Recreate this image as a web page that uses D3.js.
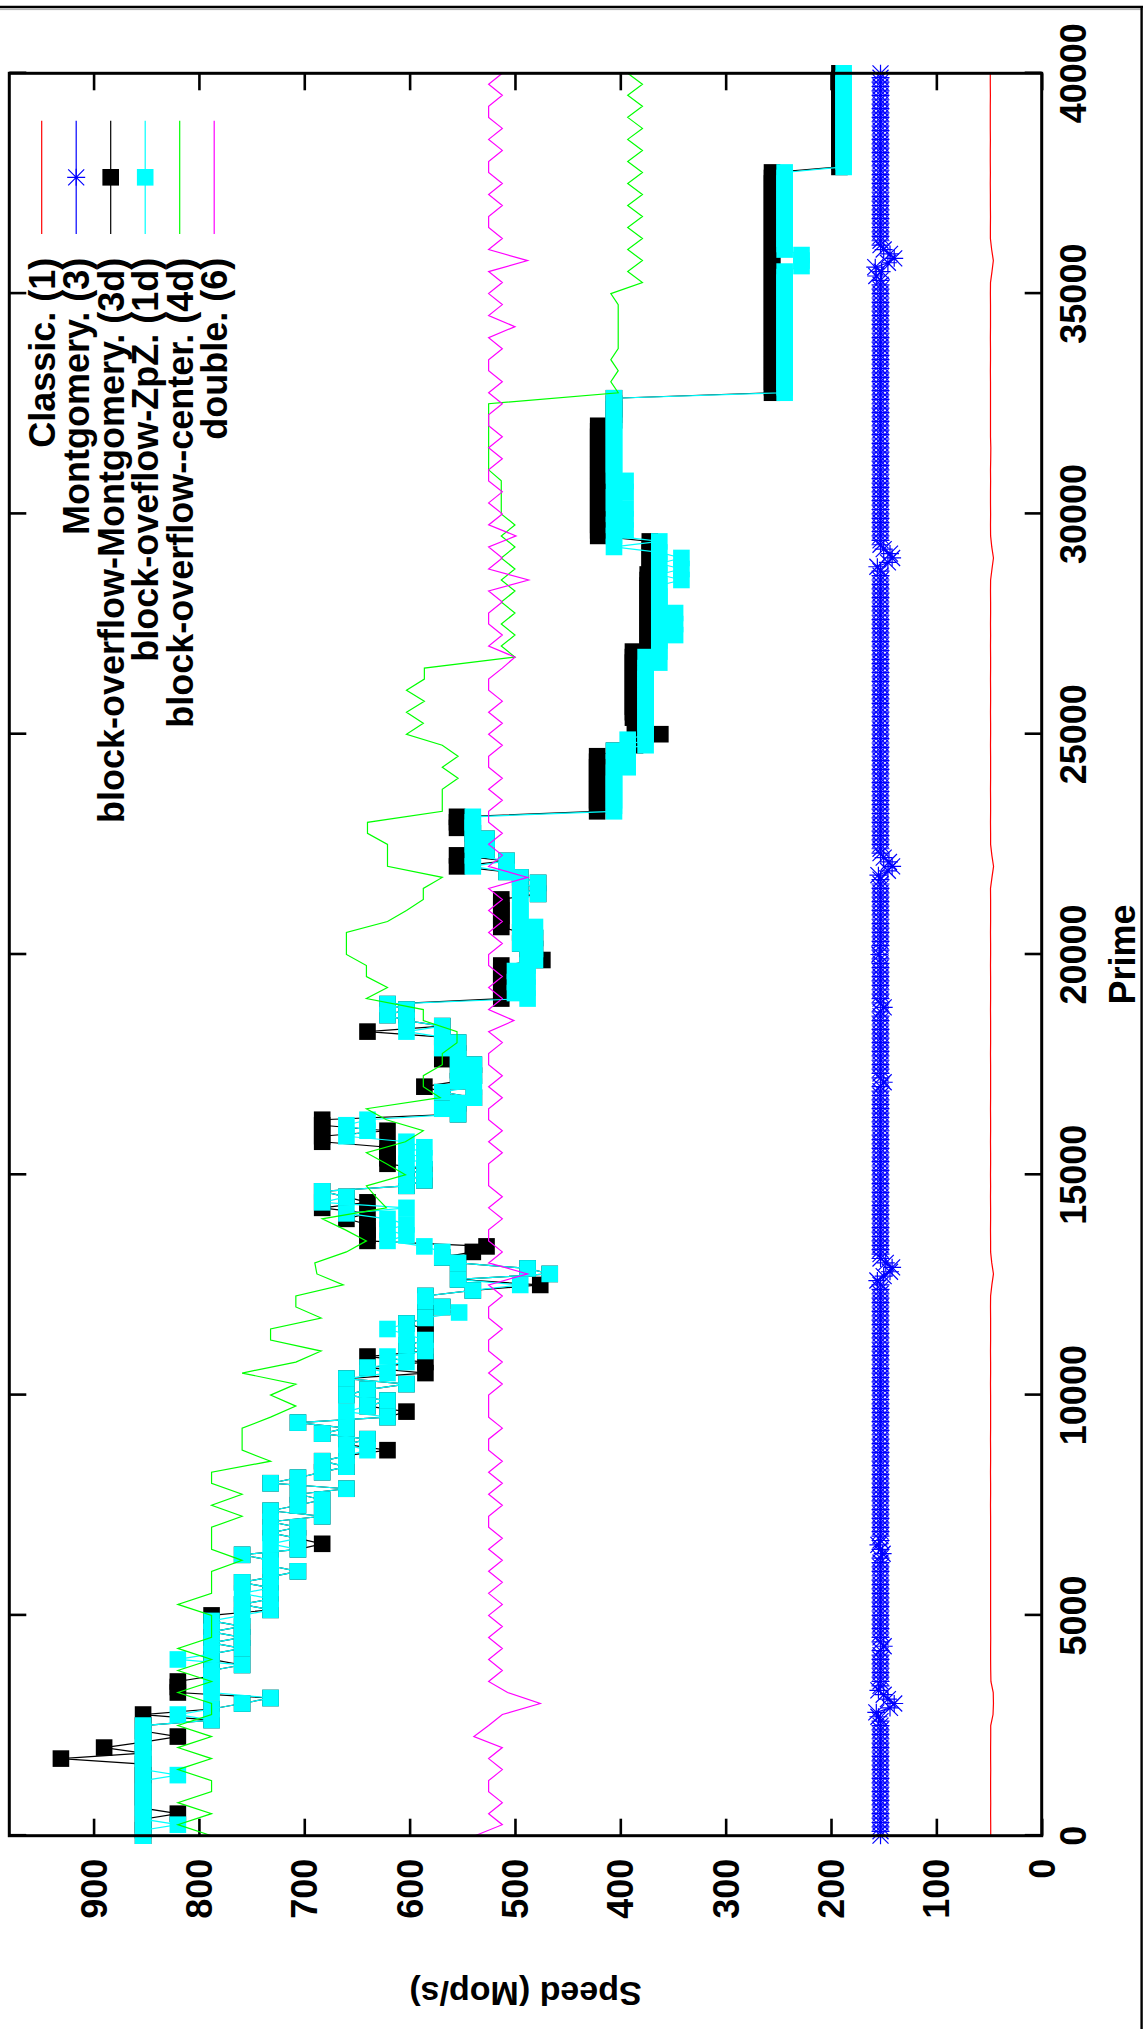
<!DOCTYPE html>
<html>
<head>
<meta charset="utf-8">
<script src="https://cdnjs.cloudflare.com/ajax/libs/d3/7.8.5/d3.min.js"></script>
<style>
  body { margin: 0; background: #fff; }
  svg { display: block; }
  text { font-family: "Liberation Sans", Arial, Helvetica, sans-serif; font-weight: bold; fill: #000; }
</style>
</head>
<body>
<svg id="chart" width="1143" height="2029"></svg>
<script>
// ---- data -------------------------------------------------------------
// Each benchmark is sampled on a regular grid of primes (step in primes).
const lineStep = 250;    // Classic, block-overflow--center, double
const blockStep = 125;   // the two block-overflow square-marker series
const montStep = 100;    // Montgomery

const primeTicks = [0, 5000, 10000, 15000, 20000, 25000, 30000, 35000, 40000];
const speedTicks = [0, 100, 200, 300, 400, 500, 600, 700, 800, 900];

const seriesNames = [
  "Classic. (1)",
  "Montgomery. (3)",
  "block-overflow-Montgomery. (3d)",
  "block-oveflow-ZpZ. (1d)",
  "block-overflow--center. (4d)",
  "double. (6)"
];

const classic = [
  48.4,48.4,48.5,48.4,48.5,48.5,48.4,48.5,48.5,48.4,
  48.4,46.2,45.8,46.0,48.2,48.4,48.5,48.5,48.4,48.5,
  48.5,48.5,48.5,48.5,48.5,48.5,48.5,48.5,48.5,48.5,
  48.6,48.5,48.5,48.6,48.5,48.5,48.6,48.5,48.5,48.5,
  48.5,48.6,48.5,48.5,48.6,48.5,48.5,48.5,48.6,48.5,
  47.3,45.8,47.4,48.5,48.5,48.6,48.5,48.5,48.6,48.5,
  48.6,48.5,48.5,48.6,48.5,48.5,48.6,48.5,48.5,48.5,
  48.5,48.6,48.5,48.5,48.5,48.6,48.5,48.5,48.5,48.6,
  48.5,48.5,48.6,48.5,48.5,48.5,48.6,47.2,45.7,47.3,
  48.5,48.5,48.6,48.5,48.5,48.6,48.5,48.5,48.5,48.6,
  48.5,48.5,48.6,48.5,48.5,48.6,48.5,48.5,48.6,48.5,
  48.6,48.5,48.5,48.6,48.5,47.2,45.8,47.4,48.5,48.6,
  48.5,48.6,48.6,48.5,48.6,48.4,48.3,48.6,48.6,48.6,
  48.6,48.6,48.6,48.7,48.6,48.6,48.7,48.6,48.6,48.6,
  48.7,48.6,47.2,45.9,47.5,48.7,48.7,48.6,48.7,48.7,
  48.8,48.7,48.8,48.8,48.7,48.8,48.8,48.8,48.7,48.8,
  48.8
];

const montgomery = [
  153,153,153,153,153,153,153,153,153,153,153,153,153,153,153,153,153,153,153,153,
  153,153,153,153,153,153,153,155,157,144,140,146,150,155,153,153,153,153,153,153,
  153,153,153,150,153,153,153,153,153,153,153,153,153,153,153,153,153,153,153,153,
  153,153,153,153,151,153,155,153,153,153,153,153,153,153,153,153,153,153,153,153,
  153,153,153,153,153,153,153,153,153,153,153,153,153,153,153,153,153,153,153,153,
  153,153,153,153,153,153,153,153,153,153,153,153,153,153,153,153,153,153,153,153,
  153,153,153,153,153,153,156,150,144,142,148,153,153,153,153,153,153,153,153,153,
  153,153,153,153,153,153,153,153,153,153,153,153,153,153,153,153,153,153,153,153,
  153,153,153,153,153,153,153,153,153,153,153,150,153,153,153,153,153,153,153,153,
  153,153,153,153,153,153,153,153,150,153,153,153,153,153,153,153,153,153,153,153,
  154,153,153,153,153,153,153,153,153,153,153,153,153,153,153,153,153,153,155,146,
  142,145,150,153,153,153,153,153,153,153,153,153,153,153,153,153,153,153,153,153,
  153,153,153,153,153,153,153,153,153,153,153,153,153,153,153,153,153,153,153,153,
  153,153,153,153,153,153,153,153,153,153,153,153,153,153,153,153,153,153,153,153,
  153,153,153,153,153,153,153,153,156,146,142,144,150,153,153,153,153,153,153,153,
  153,153,153,153,153,153,153,153,153,153,153,153,153,153,153,153,153,153,153,153,
  153,153,153,153,153,153,153,153,153,153,153,153,153,153,153,153,153,153,153,153,
  153,153,153,153,153,153,153,153,153,153,153,153,153,153,157,152,158,146,140,144,
  150,153,153,153,153,153,153,153,153,153,153,153,153,153,153,153,153,153,153,153,
  153,153,153,153,153,153,153,153,153,153,153,153,153,153,153,153,153,153,153,153,
  153
];

const blockMontgomery = [
  853,853,853,853,820,853,853,853,853,853,
  853,853,853,853,931,853,890,853,820,853,
  853,788,853,788,759,732,820,820,820,788,
  788,759,788,788,759,788,759,788,759,788,
  788,732,759,732,732,732,759,732,706,732,
  732,759,706,683,706,732,706,732,683,732,
  706,683,706,660,732,706,683,660,683,660,
  621,660,640,683,660,706,621,603,640,621,
  660,640,603,660,585,640,585,640,585,603,
  585,585,585,603,585,585,569,585,585,540,
  476,554,467,488,554,569,540,527,640,640,
  640,640,660,640,683,640,660,683,603,586,
  603,586,621,621,621,621,683,683,621,683,
  683,554,569,554,539,569,586,554,539,554,
  539,569,554,569,554,569,640,569,603,621,
  603,621,513,513,513,513,513,513,513,474,
  488,481,495,481,495,513,513,513,513,513,
  513,478,495,478,495,508,555,508,555,527,
  540,527,540,555,555,555,422,422,422,422,
  422,422,422,422,422,422,422,406,386,386,
  362,386,386,388,388,388,388,388,388,388,
  388,388,388,388,388,388,374,374,374,374,
  374,374,374,374,374,374,374,374,374,374,
  372,372,372,372,372,372,421,421,421,421,
  421,421,421,421,421,421,421,421,421,421,
  421,421,421,421,421,421,421,406,406,406,
  406,406,256,256,256,256,256,256,256,256,
  256,256,256,256,256,256,256,256,256,256,
  256,256,256,256,256,256,256,256,256,256,
  256,256,256,256,256,256,256,256,256,256,
  256,256,256,192,192,192,192,192,192,192,
  192,192,192,192,192,192,192,192,192,192,
  192
];

const blockZpZ = [
  853,853,820,853,853,853,853,853,853,853,
  853,820,853,853,853,853,853,853,853,853,
  853,788,820,788,759,732,788,788,788,788,
  788,759,820,788,759,788,759,788,759,788,
  759,732,759,732,759,732,759,732,706,732,
  732,759,706,732,706,732,706,732,683,732,
  706,683,706,660,732,706,683,660,683,660,
  640,660,640,683,660,706,621,660,640,621,
  660,640,603,660,621,640,603,621,585,603,
  585,603,621,603,585,553,569,585,585,540,
  495,554,467,488,554,569,569,586,621,603,
  621,603,621,660,603,683,660,683,603,586,
  603,586,603,586,603,586,603,660,640,660,
  640,554,569,554,539,569,539,554,539,554,
  539,554,554,569,554,569,603,569,603,621,
  603,621,488,500,488,500,488,500,488,481,
  488,481,495,481,495,481,495,495,495,495,
  495,478,495,478,495,508,540,508,540,527,
  540,527,540,540,540,540,406,406,406,406,
  406,406,406,406,393,406,393,406,376,393,
  376,376,376,376,376,376,376,376,376,376,
  376,376,376,363,376,363,363,363,348,363,
  348,363,348,363,363,363,363,363,342,363,
  342,363,342,363,406,363,406,395,406,395,
  406,395,406,406,395,406,395,406,406,406,
  406,406,406,406,406,406,406,406,406,406,
  406,406,244,244,244,244,244,244,244,244,
  244,244,244,244,244,244,244,244,244,244,
  244,244,244,244,244,228,228,228,244,244,
  244,244,244,244,244,244,244,244,244,244,
  244,244,244,188,188,188,188,188,188,188,
  188,188,188,188,188,188,188,188,188,188,
  188
];

const blockCenter = [
  788,820,788,820,788,788,820,788,820,788,
  820,788,788,820,788,820,788,820,788,788,
  788,820,788,788,788,759,788,788,788,759,
  788,759,788,788,732,759,759,759,732,708,
  732,708,759,708,684,732,732,684,708,708,
  663,688,690,660,641,661,683,622,632,641,
  604,622,641,604,587,622,641,571,587,587,
  569,569,555,555,587,587,641,621,641,641,
  660,660,660,621,603,587,587,569,621,621,
  621,640,640,569,569,569,554,569,554,569,
  603,587,603,586,603,586,586,500,513,500,
  513,500,513,500,513,500,513,500,513,500,
  513,513,513,513,525,525,525,525,525,525,
  525,402,409,402,409,402,402,402,402,402,
  409,379,393,379,393,379,393,379,393,379,
  393,379,393,379,393,379,393,379,393,379,
  393
];

const doubleSpeed = [
  538,512,525,512,525,525,512,525,512,539,
  525,512,476,507,525,512,525,512,525,512,
  525,512,525,512,525,512,525,512,525,525,
  512,525,512,525,512,525,525,512,525,525,
  525,512,525,512,525,525,512,525,525,512,
  525,488,525,512,525,525,512,525,512,525,
  525,525,512,525,512,525,525,512,525,512,
  525,525,512,525,501,525,512,525,512,525,
  525,512,525,512,525,512,525,488,525,512,
  525,512,525,525,512,525,512,525,525,512,
  525,512,525,512,525,525,512,500,525,512,
  525,525,512,525,487,525,512,525,499,525,
  512,525,512,525,525,512,525,512,525,525,
  512,525,512,525,525,512,525,500,525,512,
  525,512,525,488,525,512,525,525,512,525,
  512,525,525,512,525,512,525,525,512,525,
  512
];

// ---- layout -----------------------------------------------------------
const W = 1143, H = 2029;
const plotLeft = 9.3, plotBottom = 1835.7;   // page position of the (prime 0, speed 980) corner
const plotW = 1762.4, plotH = 1032.4;        // prime-axis length, speed-axis length
const tickLen = 17;
const labelSize = 36;

const svg = d3.select("#chart");
svg.append("rect").attr("width", W).attr("height", H).attr("fill", "#fff");

// page border (top and right edges)
svg.append("line").attr("x1", 0).attr("x2", W).attr("y1", 7).attr("y2", 7)
  .attr("stroke", "#000").attr("stroke-width", 2.4);
svg.append("line").attr("x1", 0).attr("x2", W).attr("y1", 9.6).attr("y2", 9.6)
  .attr("stroke", "#aaa").attr("stroke-width", 1);
svg.append("line").attr("x1", 1141.6).attr("x2", 1141.6).attr("y1", 6).attr("y2", H)
  .attr("stroke", "#000").attr("stroke-width", 2.4);

const x = d3.scaleLinear().domain([0, 40000]).range([0, plotW]);
const y = d3.scaleLinear().domain([0, 980]).range([plotH, 0]);

// the whole plot is laid out landscape and turned a quarter turn anticlockwise
const g = svg.append("g")
  .attr("transform", `translate(${plotLeft},${plotBottom}) rotate(-90)`);

function tickStyle(sel) {
  sel.select(".domain").remove();
  sel.selectAll(".tick text").remove();
  sel.selectAll(".tick line").attr("stroke", "#000").attr("stroke-width", 2.6);
}
g.append("g").attr("transform", `translate(0,${plotH})`)
  .call(d3.axisBottom(x).tickValues(primeTicks).tickSize(-tickLen)).call(tickStyle);
g.append("g")
  .call(d3.axisTop(x).tickValues(primeTicks).tickSize(-tickLen)).call(tickStyle);
g.append("g")
  .call(d3.axisLeft(y).tickValues(speedTicks).tickSize(-tickLen)).call(tickStyle);
g.append("g").attr("transform", `translate(${plotW},0)`)
  .call(d3.axisRight(y).tickValues(speedTicks).tickSize(-tickLen)).call(tickStyle);

// tick labels
g.selectAll("text.plab").data(primeTicks).join("text")
  .attr("class", "plab")
  .attr("x", d => x(d)).attr("y", plotH + 44.5)
  .attr("text-anchor", "middle").attr("font-size", labelSize)
  .text(d => d);
g.selectAll("text.slab").data(speedTicks).join("text")
  .attr("class", "slab")
  .attr("x", -23).attr("y", d => y(d)).attr("dy", "0.36em")
  .attr("text-anchor", "end").attr("font-size", labelSize)
  .text(d => d);

// axis titles
g.append("text").attr("x", plotW / 2).attr("y", 1126)
  .attr("text-anchor", "middle").attr("font-size", labelSize).text("Prime");
svg.append("text").attr("x", 525.5).attr("y", 1982)
  .attr("transform", "rotate(180,525.5,1982)")
  .attr("text-anchor", "middle").attr("font-size", 34).text("Speed (Mop/s)");

// ---- series -----------------------------------------------------------
const toPoints = (vals, step) => vals.map((v, i) => ({ p: i * step, s: v }));
const line = d3.line().x(d => x(d.p)).y(d => y(d.s));

const starPath = "M-8.5,0H8.5M0,-9V9M-8,-8L8,8M-8,8L8,-8";
const sq = 16.6;

const series = [
  { name: seriesNames[0], vals: classic, step: lineStep, color: "#ff0000", marker: null },
  { name: seriesNames[1], vals: montgomery, step: montStep, color: "#0000ff", marker: "star" },
  { name: seriesNames[2], vals: blockMontgomery, step: blockStep, color: "#000000", marker: "square" },
  { name: seriesNames[3], vals: blockZpZ, step: blockStep, color: "#00ffff", marker: "square" },
  { name: seriesNames[4], vals: blockCenter, step: lineStep, color: "#00ff00", marker: null },
  { name: seriesNames[5], vals: doubleSpeed, step: lineStep, color: "#ff00ff", marker: null }
];

function drawMarker(sel, kind, color) {
  if (kind === "star") {
    sel.append("path").attr("d", starPath).attr("fill", "none")
      .attr("stroke", color).attr("stroke-width", 1.2);
  } else if (kind === "square") {
    sel.append("rect").attr("x", -sq / 2).attr("y", -sq / 2)
      .attr("width", sq).attr("height", sq).attr("fill", color);
  }
}

series.forEach(sr => {
  const pts = toPoints(sr.vals, sr.step);
  const sg = g.append("g");
  sg.append("path").datum(pts).attr("d", line)
    .attr("fill", "none").attr("stroke", sr.color).attr("stroke-width", 1.2)
    .attr("stroke-linejoin", "miter");
  if (sr.marker) {
    sg.selectAll("g.pt").data(pts).join("g")
      .attr("class", "pt")
      .attr("transform", d => `translate(${x(d.p)},${y(d.s)})`)
      .each(function () { drawMarker(d3.select(this), sr.marker, sr.color); });
  }
});

// ---- legend -----------------------------------------------------------
const legendTextX = 1578, legendY0 = 32.4, legendDy = 34.5;
const sampleX1 = 1601.7, sampleX2 = 1715, sampleMid = 1658.4;
series.forEach((sr, k) => {
  const ly = legendY0 + k * legendDy;
  const lg = g.append("g");
  lg.append("text").attr("x", legendTextX).attr("y", ly).attr("dy", "0.36em")
    .attr("text-anchor", "end").attr("font-size", labelSize).text(sr.name);
  lg.append("line").attr("x1", sampleX1).attr("x2", sampleX2)
    .attr("y1", ly).attr("y2", ly)
    .attr("stroke", sr.color).attr("stroke-width", 1.2);
  if (sr.marker) {
    const mg = lg.append("g").attr("transform", `translate(${sampleMid},${ly})`);
    drawMarker(mg, sr.marker, sr.color);
  }
});

// plot frame
g.append("rect").attr("width", plotW).attr("height", plotH)
  .attr("fill", "none").attr("stroke", "#000").attr("stroke-width", 3);
</script>
</body>
</html>
